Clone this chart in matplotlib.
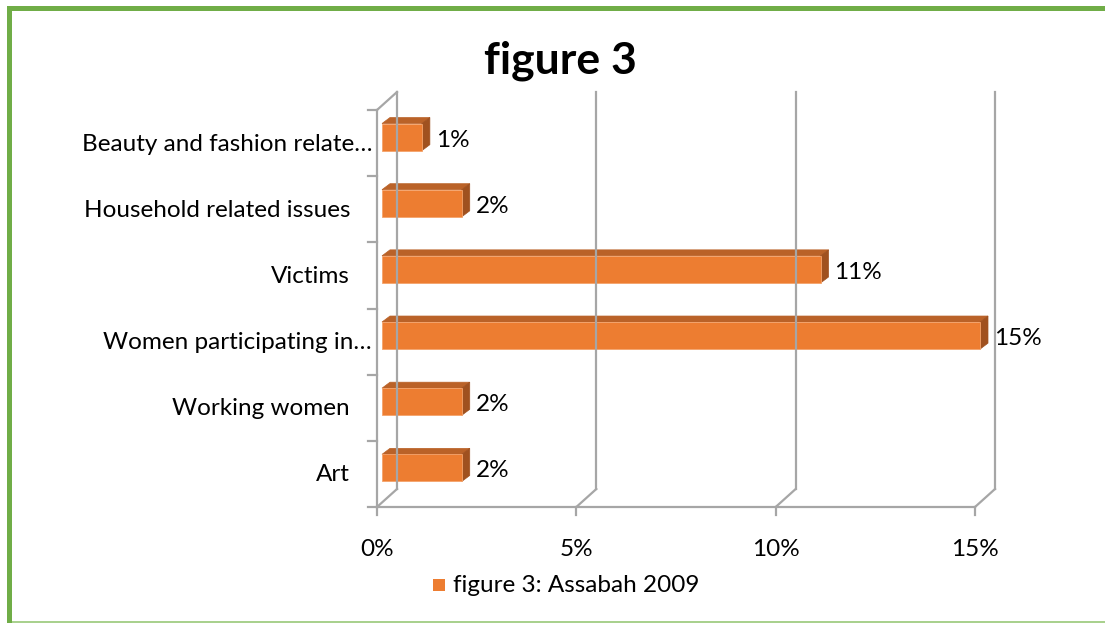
import matplotlib
matplotlib.use("Agg")
import matplotlib.pyplot as plt
from matplotlib.patches import Polygon, Rectangle
from matplotlib.transforms import Affine2D, IdentityTransform
from matplotlib.lines import Line2D

plt.rcParams['font.family'] = ['Lato', 'DejaVu Sans']

# Data
categories = ["Art", "Working women", "Women participating in…", "Victims",
              "Household related issues", "Beauty and fashion relate…"]
values = [2, 2, 15, 11, 2, 1]
x_ticks = [0, 5, 10, 15]
x_tick_labels = ["0%", "5%", "10%", "15%"]
title = "figure 3"
series_name = "figure 3: Assabah 2009"

W, H, DPI = 1105, 623, 100
fig = plt.figure(figsize=(W / DPI, H / DPI), dpi=DPI)
fig.patch.set_facecolor("white")

FS = 17.5

def fx(px):
    return px / W

def fy(py):
    return 1 - py / H

# Front plane of the 3-D box
ax_l, ax_r, ax_t, ax_b = 377, 975, 110, 507
ax = fig.add_axes([fx(ax_l), fy(ax_b), fx(ax_r - ax_l), (ax_b - ax_t) / H])
ax.set_xlim(0, 15)
ax.set_ylim(-0.5, len(categories) - 0.5)
ax.axis("off")
fig.canvas.draw()

disp = IdentityTransform()
grid_c = "#A6A6A6"
grid_lw = 1.6
wall_dx, wall_dy = 20, 18      # depth of back wall (pixels)
bar_dx, bar_dy = 5, 6          # offset of bar front face
depth_dx, depth_dy = 8, 6      # depth of each bar

def to_disp(x, y):
    return ax.transData.transform((x, y))

# Back wall gridlines and floor diagonals
for t, lab in zip(x_ticks, x_tick_labels):
    x0, y0 = to_disp(t, -0.5)
    x1, y1 = to_disp(t, len(categories) - 0.5)
    fig.add_artist(Line2D([x0 + wall_dx, x0 + wall_dx], [y0 + wall_dy, y1 + wall_dy],
                          color=grid_c, lw=grid_lw, transform=disp))
    fig.add_artist(Line2D([x0, x0 + wall_dx], [y0, y0 + wall_dy],
                          color=grid_c, lw=grid_lw, transform=disp))
    fig.add_artist(Line2D([x0, x0], [y0, y0 - 8],
                          color=grid_c, lw=grid_lw, transform=disp))
    ax.text(t, -0.5, lab,
            transform=ax.transData + Affine2D().translate(0, -43),
            ha="center", va="center", fontsize=FS, color="#000000")

# Front bottom axis line
xb0, yb0 = to_disp(0, -0.5)
xb1, _ = to_disp(15, -0.5)
fig.add_artist(Line2D([xb0, xb1], [yb0, yb0], color=grid_c, lw=grid_lw, transform=disp))

# Left axis with tick marks and top diagonal
xl, yt = to_disp(0, len(categories) - 0.5)
fig.add_artist(Line2D([xl, xl], [yb0, yt], color=grid_c, lw=grid_lw, transform=disp))
fig.add_artist(Line2D([xl, xl + wall_dx], [yt, yt + wall_dy], color=grid_c, lw=grid_lw, transform=disp))
for k in range(len(categories) + 1):
    _, yk = to_disp(0, k - 0.5)
    fig.add_artist(Line2D([xl - 9, xl], [yk, yk], color=grid_c, lw=grid_lw, transform=disp))

# 3-D bars
front_c = "#ED7D31"
top_c = "#BA6228"
side_c = "#A0511F"
h = 0.41
for i, (cat, v) in enumerate(zip(categories, values)):
    xa, ya = to_disp(0, i - h / 2)
    xv, yb = to_disp(v, i + h / 2)
    xa += bar_dx; xv += bar_dx; ya += bar_dy; yb += bar_dy
    fig.add_artist(Polygon([(xa, yb), (xv, yb), (xv + depth_dx, yb + depth_dy),
                            (xa + depth_dx, yb + depth_dy)], closed=True,
                           facecolor=top_c, edgecolor=top_c, lw=0.5, transform=disp))
    fig.add_artist(Polygon([(xv, ya), (xv, yb), (xv + depth_dx, yb + depth_dy),
                            (xv + depth_dx, ya + depth_dy)], closed=True,
                           facecolor=side_c, edgecolor=side_c, lw=0.5, transform=disp))
    fig.add_artist(Rectangle((xa, ya), xv - xa, yb - ya, facecolor=front_c,
                             edgecolor="#F4A36B", lw=0.6, transform=disp))
    ax.text(v, i, f"{v}%", transform=ax.transData + Affine2D().translate(bar_dx + depth_dx + 6, 3),
            ha="left", va="center", fontsize=FS, color="#000000")
    pad = 5 if cat.endswith("…") else 27
    ax.text(0, i, cat, transform=ax.transData + Affine2D().translate(-pad, -1),
            ha="right", va="center", fontsize=FS, color="#000000")

# Title
fig.text(fx(560), fy(61), title, ha="center", va="center",
         fontsize=32, fontweight="bold", color="#000000")

# Legend
fig.add_artist(Rectangle((fx(433), fy(591)), fx(12), 12 / H, facecolor=front_c,
                         edgecolor="none", transform=fig.transFigure))
fig.text(fx(453), fy(585), series_name, ha="left", va="center", fontsize=FS, color="#000000")

# Green frame
green = "#70AD47"
fig.add_artist(Rectangle((fx(7), fy(623)), fx(5), (623 - 6) / H, facecolor=green,
                         edgecolor="none", transform=fig.transFigure))
fig.add_artist(Rectangle((fx(7), fy(11)), 1 - fx(7), 5 / H, facecolor=green,
                         edgecolor="none", transform=fig.transFigure))
fig.add_artist(Rectangle((fx(12), fy(623)), 1, 2 / H, facecolor="#A9D18E",
                         edgecolor="none", transform=fig.transFigure))

fig.savefig("out.png", dpi=DPI, facecolor="white")
